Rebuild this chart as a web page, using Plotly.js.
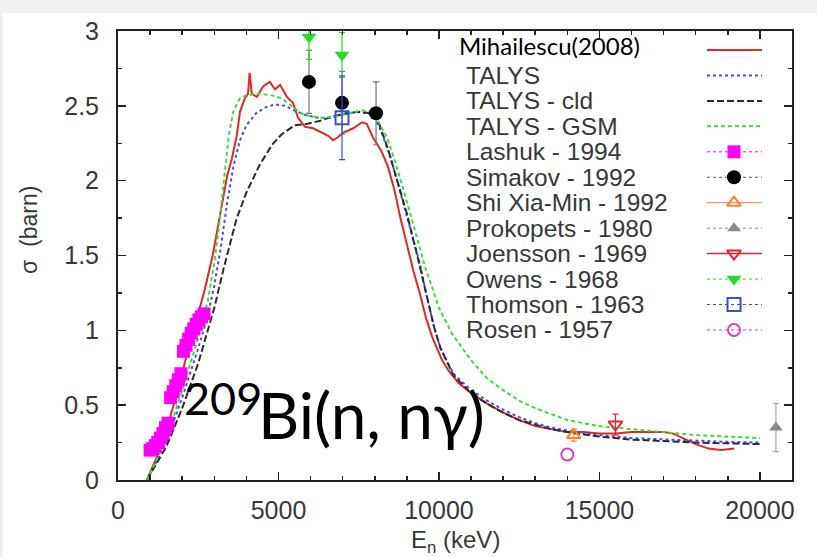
<!DOCTYPE html>
<html>
<head>
<meta charset="utf-8">
<script src="https://cdn.plot.ly/plotly-3.0.1.min.js"></script>
<style>
  html, body { margin: 0; padding: 0; background: #ffffff; }
  #chart { width: 817px; height: 557px; }
</style>
</head>
<body>
<div id="chart"></div>
<script>
// 209Bi(n,n'gamma) cross section: neutron energy in keV, sigma in barn

// Mihailescu (2008) measurement
const mihE = [900, 1200, 1500, 1800, 2100, 2400, 2700, 2950, 3200, 3400, 3550, 3700, 3800, 3950, 4050, 4100, 4170, 4330, 4520, 4730, 4890, 5050, 5260, 5450, 5610, 5830, 6080, 6390, 6550, 6700, 6850, 7010, 7330, 7600, 7750, 7940, 8200, 8400, 8600, 8800, 9000, 9200, 9400, 9600, 9800, 9950, 10100, 10300, 10600, 11000, 11500, 12000, 12500, 13000, 13500, 14000, 14500, 15000, 15500, 16000, 16500, 17000, 17300, 17600, 18000, 18400, 18800, 19200];
const mihS = [0, 0.15, 0.33, 0.55, 0.80, 1.03, 1.27, 1.50, 1.80, 2.03, 2.15, 2.30, 2.46, 2.55, 2.58, 2.72, 2.58, 2.56, 2.63, 2.66, 2.61, 2.64, 2.56, 2.52, 2.42, 2.36, 2.35, 2.32, 2.30, 2.27, 2.29, 2.32, 2.35, 2.39, 2.38, 2.29, 2.20, 2.10, 1.95, 1.75, 1.57, 1.40, 1.25, 1.08, 0.95, 0.88, 0.80, 0.73, 0.65, 0.58, 0.51, 0.45, 0.40, 0.36, 0.34, 0.32, 0.32, 0.31, 0.31, 0.32, 0.32, 0.32, 0.31, 0.28, 0.24, 0.21, 0.20, 0.21];

// TALYS default
const talE = [900, 1500, 2000, 2500, 2800, 3000, 3200, 3400, 3600, 3800, 4000, 4300, 4600, 4900, 5200, 5500, 5800, 6200, 6600, 7000, 7400, 7800, 8000, 8200, 8500, 8800, 9100, 9400, 9650, 9850, 10050, 10450, 11000, 11500, 12000, 12500, 13000, 13500, 14000, 14600, 15000, 16000, 17000, 18000, 19000, 20000];
const talS = [0, 0.25, 0.55, 0.88, 1.10, 1.30, 1.55, 1.85, 2.10, 2.27, 2.37, 2.45, 2.49, 2.51, 2.50, 2.47, 2.44, 2.42, 2.42, 2.44, 2.46, 2.45, 2.42, 2.33, 2.15, 1.92, 1.68, 1.45, 1.20, 1.02, 0.88, 0.71, 0.60, 0.53, 0.47, 0.42, 0.38, 0.35, 0.33, 0.31, 0.30, 0.28, 0.27, 0.26, 0.255, 0.25];

// TALYS with cld level density
const cldE = [900, 1500, 2000, 2500, 3000, 3300, 3700, 4000, 4400, 4800, 5100, 5500, 5900, 6300, 6700, 7100, 7500, 7900, 8100, 8400, 8700, 9000, 9300, 9600, 9850, 10050, 10450, 11000, 11500, 12000, 12500, 13000, 13500, 14000, 15000, 16000, 17000, 18000, 19000, 20000];
const cldS = [0, 0.22, 0.48, 0.78, 1.15, 1.42, 1.75, 1.92, 2.10, 2.24, 2.31, 2.37, 2.38, 2.40, 2.43, 2.45, 2.46, 2.45, 2.40, 2.22, 2.00, 1.78, 1.52, 1.24, 1.02, 0.88, 0.70, 0.58, 0.51, 0.45, 0.40, 0.37, 0.34, 0.32, 0.29, 0.27, 0.26, 0.25, 0.245, 0.24];

// TALYS with GSM level density
const gsmE = [900, 1500, 2000, 2500, 2800, 3000, 3150, 3300, 3450, 3600, 3800, 4000, 4400, 4800, 5100, 5400, 5700, 6000, 6400, 6800, 7200, 7600, 7900, 8100, 8400, 8700, 9000, 9300, 9600, 9800, 10000, 10400, 11000, 11500, 12000, 12500, 13000, 13500, 14000, 15000, 16000, 17000, 18000, 19000, 20000];
const gsmS = [0, 0.27, 0.60, 0.95, 1.20, 1.45, 1.70, 2.00, 2.30, 2.47, 2.55, 2.57, 2.58, 2.57, 2.55, 2.50, 2.45, 2.43, 2.42, 2.43, 2.45, 2.47, 2.46, 2.40, 2.28, 2.08, 1.86, 1.63, 1.40, 1.28, 1.15, 0.98, 0.80, 0.68, 0.60, 0.53, 0.48, 0.44, 0.40, 0.36, 0.34, 0.32, 0.30, 0.29, 0.28];

// Experimental data sets
const lashukE = [1000, 1080, 1160, 1240, 1320, 1400, 1480, 1560, 1640, 1720, 1800, 1880, 1960, 2040, 2120, 2200, 2280, 2360, 2440, 2520, 2600, 2680];
const lashukS = [0.20, 0.21, 0.23, 0.25, 0.28, 0.31, 0.35, 0.38, 0.55, 0.59, 0.63, 0.67, 0.71, 0.86, 0.90, 0.94, 0.98, 1.01, 1.04, 1.07, 1.09, 1.11];

const simakovE = [5950, 6980, 8040];
const simakovS = [2.66, 2.52, 2.45];
const simakovErr = [0.21, 0.21, 0.21];

const shiE = [14200];
const shiS = [0.30];
const shiErr = [0.04];

const prokopetsE = [20500];
const prokopetsS = [0.35];
const prokopetsErr = [0.16];

const joenssonE = [15500];
const joenssonS = [0.37];
const joenssonErr = [0.07];

const owensE = [5950, 6980];
const owensS = [2.96, 2.84];
const owensErr = [0.15, 0.15];

const thomsonE = [6980];
const thomsonS = [2.42];
const thomsonErr = [0.28];

const rosenE = [14000];
const rosenS = [0.17];

// Legend labels, in drawing order
const legendLabels = ['TALYS', 'TALYS - cld', 'TALYS - GSM', 'Lashuk - 1994', 'Simakov - 1992',
  'Shi Xia-Min - 1992', 'Prokopets - 1980', 'Joensson - 1969', 'Owens - 1968', 'Thomson - 1963', 'Rosen - 1957'];

// ---- styling ----
const RED = '#e4262b', BLUE = '#4a4ae8', DARK = '#2b2b2b', GREEN = '#3ddc3d',
      MAGENTA = '#ff00ff', ORANGE = '#ff7f2a', GRAY = '#8a8a8a', OWENS = '#22dd22',
      THOMSON = '#3a4fd0', ROSEN = '#d040d0';

// plot frame in pixels
const W = 817, H = 557, L = 118, R = 792, T = 31, B = 480;
const fx = p => (p - L) / (R - L);
const fy = p => (B - p) / (B - T);

function errY(arr, color) {
  return { type: 'data', array: arr, visible: true, color: color, thickness: 1.2, width: 3 };
}

const traces = [
  { x: mihE, y: mihS, mode: 'lines', line: { color: RED, width: 2 } },
  { x: talE, y: talS, mode: 'lines', line: { color: BLUE, width: 2, dash: 'dot' } },
  { x: cldE, y: cldS, mode: 'lines', line: { color: DARK, width: 2, dash: '7px,3px' } },
  { x: gsmE, y: gsmS, mode: 'lines', line: { color: GREEN, width: 2, dash: '4px,3px' } },
  { x: lashukE, y: lashukS, mode: 'markers', marker: { symbol: 'square', size: 13, color: MAGENTA } },
  { x: simakovE, y: simakovS, mode: 'markers', error_y: errY(simakovErr, '#777'),
    marker: { symbol: 'circle', size: 14, color: '#000' } },
  { x: shiE, y: shiS, mode: 'markers', error_y: errY(shiErr, ORANGE),
    marker: { symbol: 'triangle-up-open', size: 12, color: ORANGE, line: { width: 2 } } },
  { x: prokopetsE, y: prokopetsS, mode: 'markers', error_y: errY(prokopetsErr, '#aaa'),
    marker: { symbol: 'triangle-up', size: 12, color: GRAY } },
  { x: joenssonE, y: joenssonS, mode: 'markers', error_y: errY(joenssonErr, RED),
    marker: { symbol: 'triangle-down-open', size: 12, color: RED, line: { width: 2 } } },
  { x: owensE, y: owensS, mode: 'markers', error_y: errY(owensErr, OWENS),
    marker: { symbol: 'triangle-down', size: 13, color: OWENS } },
  { x: thomsonE, y: thomsonS, mode: 'markers', error_y: errY(thomsonErr, THOMSON),
    marker: { symbol: 'square-open', size: 13, color: THOMSON, line: { width: 2 } } },
  { x: rosenE, y: rosenS, mode: 'markers',
    marker: { symbol: 'circle-open', size: 12, color: ROSEN, line: { width: 2 } } }
];
traces.forEach(t => { t.type = 'scatter'; t.showlegend = false; t.hoverinfo = 'skip'; });

// ---- key column (drawn on an overlay axis pair spanning the plot frame) ----
const rowY = k => fy(50 + 25.45 * k);
const keyX0 = fx(707), keyX1 = fx(762), keyXm = fx(734);
const keyStyles = [
  { line: { color: RED, width: 2 } },
  { line: { color: BLUE, width: 2, dash: 'dot' } },
  { line: { color: DARK, width: 2, dash: '7px,3px' } },
  { line: { color: GREEN, width: 2, dash: '4px,3px' } },
  { line: { color: MAGENTA, width: 1, dash: 'dot' }, marker: { symbol: 'square', size: 13, color: MAGENTA } },
  { line: { color: '#555', width: 1, dash: 'dot' }, marker: { symbol: 'circle', size: 14, color: '#000' } },
  { line: { color: ORANGE, width: 1 }, marker: { symbol: 'triangle-up-open', size: 12, color: ORANGE, line: { width: 2 } } },
  { line: { color: GRAY, width: 1, dash: 'dot' }, marker: { symbol: 'triangle-up', size: 12, color: GRAY } },
  { line: { color: RED, width: 1.5 }, marker: { symbol: 'triangle-down-open', size: 12, color: RED, line: { width: 2 } } },
  { line: { color: OWENS, width: 1, dash: 'dot' }, marker: { symbol: 'triangle-down', size: 13, color: OWENS } },
  { line: { color: THOMSON, width: 1, dash: 'dot' }, marker: { symbol: 'square-open', size: 13, color: THOMSON, line: { width: 2 } } },
  { line: { color: ROSEN, width: 1, dash: 'dot' }, marker: { symbol: 'circle-open', size: 12, color: ROSEN, line: { width: 2 } } }
];
keyStyles.forEach((s, k) => {
  const y = rowY(k);
  traces.push({ type: 'scatter', xaxis: 'x2', yaxis: 'y2', x: [keyX0, keyX1], y: [y, y],
    mode: 'lines', line: s.line, showlegend: false, hoverinfo: 'skip', cliponaxis: false });
  if (s.marker) {
    traces.push({ type: 'scatter', xaxis: 'x2', yaxis: 'y2', x: [keyXm], y: [y],
      mode: 'markers', marker: s.marker, showlegend: false, hoverinfo: 'skip', cliponaxis: false });
  }
});

const labelFont = { family: 'Liberation Sans, Arial, sans-serif', size: 24.5, color: '#383838' };
const annotations = legendLabels.map((txt, i) => ({
  xref: 'paper', yref: 'paper', x: fx(465), y: rowY(i + 1), xanchor: 'left', yanchor: 'middle',
  text: txt, showarrow: false, font: labelFont, borderpad: 0
}));

annotations.push(
  { xref: 'paper', yref: 'paper', x: fx(458), y: fy(46), xanchor: 'left', yanchor: 'middle',
    text: 'Mihailescu(2008)', showarrow: false, borderpad: 0,
    font: { family: 'Lato, sans-serif', size: 24, color: '#000' } },
  { xref: 'paper', yref: 'paper', x: fx(29), y: fy(230), xanchor: 'center', yanchor: 'middle',
    text: 'σ  (barn)', textangle: -90, showarrow: false,
    font: { family: 'Liberation Sans, Arial, sans-serif', size: 23, color: '#383838' } },
  { xref: 'paper', yref: 'paper', x: fx(455), y: fy(541), xanchor: 'center', yanchor: 'middle',
    text: 'E<sub>n</sub> (keV)', showarrow: false, borderpad: 0,
    font: { family: 'Liberation Sans, Arial, sans-serif', size: 24, color: '#383838' } },
  { xref: 'paper', yref: 'paper', x: fx(183), y: fy(398), xanchor: 'left', yanchor: 'middle',
    text: '209', showarrow: false, borderpad: 0,
    font: { family: 'Lato, sans-serif', size: 45, color: '#000' } },
  { xref: 'paper', yref: 'paper', x: fx(257), y: fy(414), xanchor: 'left', yanchor: 'middle',
    text: 'Bi(n, nγ)', showarrow: false, borderpad: 0,
    font: { family: 'Lato, sans-serif', size: 64, color: '#000' } }
);

const axisCommon = {
  ticks: 'inside', ticklen: 8, tickwidth: 1.5, tickcolor: '#222',
  showline: true, linecolor: '#222', linewidth: 2, mirror: 'allticks',
  showgrid: false, zeroline: false,
  tickfont: { family: 'Liberation Sans, Arial, sans-serif', size: 25, color: '#383838' }
};

const layout = {
  width: W, height: H,
  margin: { l: L, r: W - R, t: T, b: H - B, pad: 0 },
  paper_bgcolor: '#ffffff', plot_bgcolor: '#ffffff',
  showlegend: false,
  xaxis: Object.assign({}, axisCommon, {
    range: [0, 21000], tick0: 0, dtick: 5000, tickformat: 'd', ticklabelstandoff: 7,
    minor: { dtick: 1000, ticks: 'inside', ticklen: 4, tickwidth: 1.5, tickcolor: '#222', showgrid: false }
  }),
  yaxis: Object.assign({}, axisCommon, {
    range: [0, 3], tick0: 0, dtick: 0.5, ticklabelstandoff: 12,
    minor: { dtick: 0.25, ticks: 'inside', ticklen: 4, tickwidth: 1.5, tickcolor: '#222', showgrid: false }
  }),
  xaxis2: { overlaying: 'x', anchor: 'y2', range: [0, 1], visible: false, fixedrange: true },
  yaxis2: { overlaying: 'y', anchor: 'x2', range: [0, 1], visible: false, fixedrange: true },
  annotations: annotations,
  shapes: [
    { type: 'rect', xref: 'paper', yref: 'paper', layer: 'below', line: { width: 0 }, fillcolor: '#f0f0f0',
      x0: fx(0), x1: fx(W), y0: fy(13), y1: fy(0) },
    { type: 'rect', xref: 'paper', yref: 'paper', layer: 'below', line: { width: 0 }, fillcolor: '#f0f0f0',
      x0: fx(0), x1: fx(3), y0: fy(H), y1: fy(0) }
  ]
};

Plotly.newPlot('chart', traces, layout, { displayModeBar: false, staticPlot: true });
</script>
</body>
</html>
